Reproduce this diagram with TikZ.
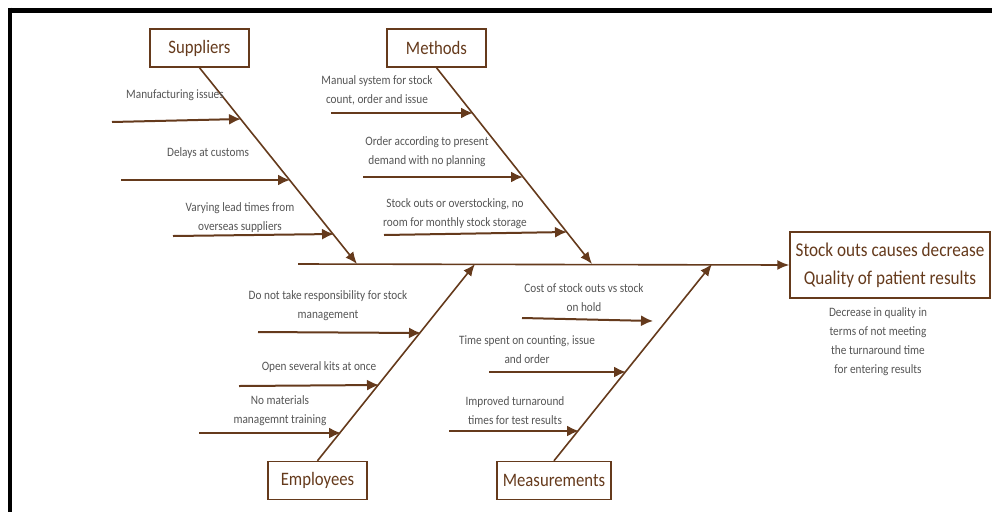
\documentclass[tikz,border=0pt]{standalone}
\usepackage{fontspec}
\setmainfont{Carlito}[FakeStretch=0.88]
\usepackage{tikz}
\usetikzlibrary{arrows.meta,positioning,calc}
\definecolor{bonebrown}{HTML}{653A1C}
\definecolor{notegray}{HTML}{555555}
\tikzset{
  catbox/.style={rectangle, draw=bonebrown, line width=1.5pt, text=bonebrown,
                 minimum width=99pt, minimum height=38pt, inner xsep=6pt,
                 font=\fontsize{19}{22}\selectfont},
  cause/.style={align=center, text=notegray, inner sep=0pt,
                font=\fontsize{12.8}{19}\selectfont},
  bone/.style={-{Latex[length=12pt,width=10pt]}, line width=1.6pt, draw=bonebrown},
  twig/.style={-{Latex[length=12pt,width=11pt]}, line width=2pt, draw=bonebrown},
}

\begin{document}
\begin{tikzpicture}[x=1pt, y=-1pt]
\useasboundingbox (0,0) rectangle (992,512);
% page frame
\draw[line width=3pt, black] (8,9) -- (992,9);
\draw[line width=1.2pt, black] (12,12) -- (992,12);
\draw[line width=4pt, black] (10,7.5) -- (10,512);

% head and spine
\node[rectangle, draw=bonebrown, line width=1.5pt, text=bonebrown, minimum width=200pt, minimum height=66pt,
      align=center, font=\fontsize{19.5}{28}\selectfont] (effect) at (890,265) {Stock outs causes decrease\\Quality of patient results};
\node[cause] (effnote) at (878,342) {Decrease in quality in\\terms of not meeting\\the turnaround time\\for entering results};
\coordinate (tail) at (298,264);
\draw[bone] (tail) -- (effect.west);

% category boxes
\node[catbox] (sup) at (199.5,48) {Suppliers};
\node[catbox] (met) at (436.5,48) {Methods};
\node[catbox] (emp) at (317.5,480.5) {Employees};
\node[catbox] (mea) at (554,480.5) {Measurements};

\coordinate (supend) at (357,264);
\coordinate (metend) at (592,264);
\coordinate (empend) at (475,264);
\coordinate (meaend) at (712,264);
\draw[bone] (sup.south) -- (supend);
\draw[bone] (met.south) -- (metend);
\draw[bone] (emp.north) -- (empend);
\draw[bone] (mea.north) -- (meaend);

% Suppliers
\coordinate (s1a) at (112,122); \coordinate (s1b) at (241,119);
\coordinate (s2a) at (121,180); \coordinate (s2b) at (290,180);
\coordinate (s3a) at (173,236); \coordinate (s3b) at (334,234);
\draw[twig] (s1a) -- (s1b);
\draw[twig] (s2a) -- (s2b);
\draw[twig] (s3a) -- (s3b);
\node[cause] (sl1) at (175,95) {Manufacturing issues};
\node[cause] (sl2) at (208,153) {Delays at customs};
\node[cause] (sl3) at (240,218) {Varying lead times from\\overseas suppliers};

% Methods
\coordinate (m1a) at (331,113); \coordinate (m1b) at (473,113);
\coordinate (m2a) at (363,177); \coordinate (m2b) at (523,177);
\coordinate (m3a) at (384,235); \coordinate (m3b) at (567,232);
\draw[twig] (m1a) -- (m1b);
\draw[twig] (m2a) -- (m2b);
\draw[twig] (m3a) -- (m3b);
\node[cause] (ml1) at (377,90) {Manual system for stock\\count, order and issue};
\node[cause] (ml2) at (427,152) {Order according to present\\demand with no planning};
\node[cause] (ml3) at (455,214) {Stock outs or overstocking, no\\room for monthly stock storage};

% Employees
\coordinate (e1a) at (258,332) ; \coordinate (e1b) at (421,333);
\coordinate (e2a) at (239,386) ; \coordinate (e2b) at (379,385);
\coordinate (e3a) at (199,433) ; \coordinate (e3b) at (341,433);
\draw[twig] (e1a) -- (e1b);
\draw[twig] (e2a) -- (e2b);
\draw[twig] (e3a) -- (e3b);
\node[cause] (el1) at (328,306) {Do not take responsibility for stock\\management};
\node[cause] (el2) at (319,367) {Open several kits at once};
\node[cause] (el3) at (280,411) {No materials\\managemnt training};

% Measurements
\coordinate (q1a) at (522,318); \coordinate (q1b) at (653,321);
\coordinate (q2a) at (489,372); \coordinate (q2b) at (626,372);
\coordinate (q3a) at (449,431); \coordinate (q3b) at (579,431);
\draw[twig] (q1a) -- (q1b);
\draw[twig] (q2a) -- (q2b);
\draw[twig] (q3a) -- (q3b);
\node[cause] (ql1) at (584,298) {Cost of stock outs vs stock\\on hold};
\node[cause] (ql2) at (527,350) {Time spent on counting, issue\\and order};
\node[cause] (ql3) at (515,411) {Improved turnaround\\times for test results};
\end{tikzpicture}
\end{document}
